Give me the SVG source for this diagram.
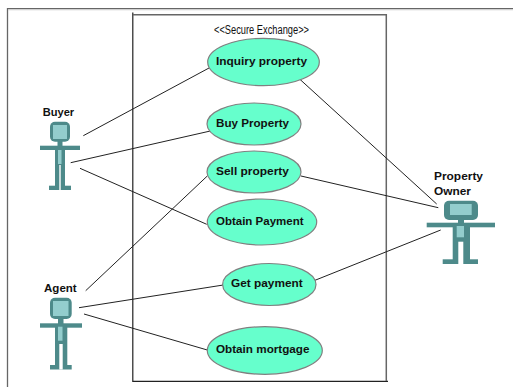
<svg xmlns="http://www.w3.org/2000/svg" width="513" height="387" viewBox="0 0 513 387">
<style>
text{font-family:"Liberation Sans",Arial,sans-serif;font-weight:bold;font-size:11.5px;fill:#111}
.uc ellipse{fill:#66ffcc;stroke:#808080;stroke-width:1.2}
.c line{stroke:#222;stroke-width:1}
.a{fill:#4d8a8a}
.l{fill:#93cdcd}
.g{fill:#fff}
</style>
<rect width="513" height="387" fill="#fff"/>
<path d="M7.500 387V8.700H513" fill="none" stroke="#666" stroke-width="1.300"/>
<path d="M8.200 9.800H513" fill="none" stroke="#ccc" stroke-width="0.800"/>
<g id="system">
<path d="M132.800 12.500V381.300H388" fill="none" stroke="#222" stroke-width="1.200"/>
<path d="M133 14.700H386.300V381" fill="none" stroke="#666" stroke-width="1.500"/>
<text x="214" y="34" style="font-weight:normal;font-size:12px" textLength="95" lengthAdjust="spacingAndGlyphs">&lt;&lt;Secure Exchange&gt;&gt;</text>
</g>
<g class="c" id="connectors">
<line x1="83.300" y1="135.700" x2="209" y2="68"/>
<line x1="70.700" y1="162.700" x2="211.700" y2="130.700"/>
<line x1="80" y1="168.300" x2="206.700" y2="224.300"/>
<line x1="85.700" y1="290.700" x2="207.300" y2="176"/>
<line x1="79" y1="307.700" x2="223.300" y2="285"/>
<line x1="84" y1="314" x2="207.300" y2="350"/>
<line x1="297.700" y1="77.300" x2="436.700" y2="204"/>
<line x1="301" y1="176" x2="438.300" y2="207.700"/>
<line x1="314" y1="280.700" x2="440.700" y2="230"/>
</g>
<g class="uc" id="inquiry"><ellipse cx="263.500" cy="62" rx="55.800" ry="23.700"/><text x="216" y="65" textLength="91" lengthAdjust="spacingAndGlyphs">Inquiry property</text></g>
<g class="uc" id="buy"><ellipse cx="254" cy="124" rx="47" ry="21"/><text x="216" y="127" textLength="73" lengthAdjust="spacingAndGlyphs">Buy Property</text></g>
<g class="uc" id="sell"><ellipse cx="254" cy="172" rx="47" ry="21"/><text x="216" y="175" textLength="73" lengthAdjust="spacingAndGlyphs">Sell property</text></g>
<g class="uc" id="payment"><ellipse cx="262" cy="222" rx="54.700" ry="23"/><text x="216" y="225" textLength="87.500" lengthAdjust="spacingAndGlyphs">Obtain Payment</text></g>
<g class="uc" id="getpayment"><ellipse cx="269.300" cy="284.500" rx="46.700" ry="21"/><text x="231" y="287" textLength="71.700" lengthAdjust="spacingAndGlyphs">Get payment</text></g>
<g class="uc" id="mortgage"><ellipse cx="264.800" cy="350.500" rx="57.500" ry="23.800"/><text x="216" y="353.300" textLength="93.500" lengthAdjust="spacingAndGlyphs">Obtain mortgage</text></g>
<g id="buyer">
<text x="42.700" y="115.700" textLength="31.500" lengthAdjust="spacingAndGlyphs">Buyer</text>
<rect class="a" x="50" y="121.700" width="20" height="20" rx="5"/><rect class="l" x="53" y="125" width="14" height="14"/>
<rect class="a" x="40" y="145.700" width="40" height="4.300"/><rect class="a" x="57.500" y="141" width="5" height="6"/>
<rect class="a" x="55" y="149" width="10" height="38"/><rect class="l" x="58" y="150" width="3.500" height="14"/>
<rect class="a" x="49" y="185.700" width="22" height="4.300"/>
<rect class="g" x="59.300" y="165" width="1.400" height="25"/>
</g>
<g id="agent">
<text x="44" y="292" textLength="32.700" lengthAdjust="spacingAndGlyphs">Agent</text>
<rect class="a" x="50" y="297.700" width="21.700" height="21.300" rx="5"/><rect class="l" x="53" y="301" width="15.500" height="15"/>
<rect class="a" x="40" y="323.300" width="42" height="4.400"/><rect class="a" x="58" y="318" width="5.500" height="6"/>
<rect class="a" x="55" y="326" width="12.300" height="40"/><rect class="l" x="58" y="326.700" width="4.500" height="14"/>
<rect class="a" x="50" y="365" width="21.700" height="4.500"/>
<rect class="g" x="59.300" y="344" width="3.400" height="25.500"/>
</g>
<g id="owner">
<text x="434" y="180" textLength="49" lengthAdjust="spacingAndGlyphs">Property</text><text x="434" y="195" textLength="37" lengthAdjust="spacingAndGlyphs">Owner</text>
<rect class="a" x="444" y="200.700" width="34" height="19.300" rx="5"/><rect class="l" x="450" y="204" width="21.700" height="11"/>
<rect class="a" x="426.700" y="222.700" width="68.300" height="4.600"/><rect class="a" x="458" y="219" width="6" height="5"/>
<rect class="a" x="452.700" y="226" width="17.300" height="36"/><rect class="l" x="456.700" y="226" width="7.300" height="11.300"/>
<rect class="a" x="442.700" y="259.300" width="35.300" height="4.700"/>
<rect class="g" x="458.300" y="241.700" width="5" height="22.300"/>
</g>
</svg>
